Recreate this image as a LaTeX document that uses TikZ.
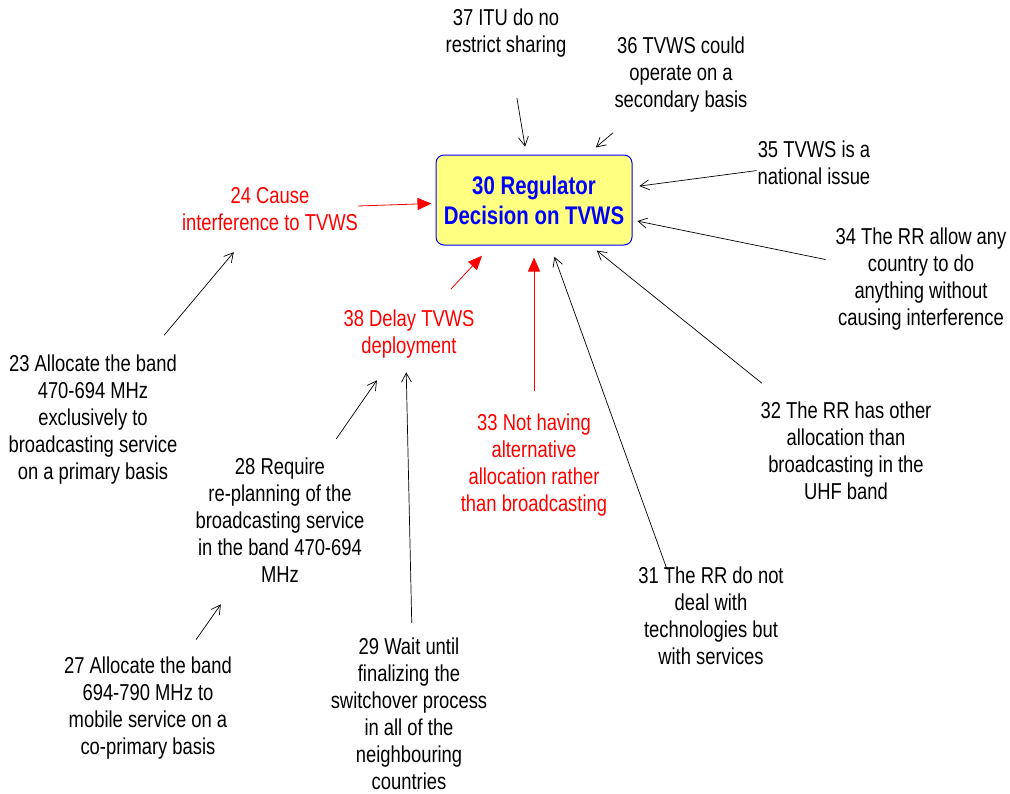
\documentclass[tikz,border=0pt]{standalone}
\usepackage{fontspec}
\setmainfont{Liberation Sans}[FakeStretch=0.8]
\usetikzlibrary{arrows.meta, positioning}
\definecolor{boxYellow}{RGB}{255,255,128}
\tikzset{
  varB/.style={align=center, inner xsep=0pt, inner ysep=3pt,
               font=\fontsize{23}{27}\selectfont},
  varR/.style={varB, text=red},
  decision/.style={draw=blue, fill=boxYellow, rounded corners=8pt,
                   line width=1pt, minimum width=196pt, minimum height=90pt,
                   align=center, text=blue,
                   font=\fontsize{25.5}{30}\selectfont\bfseries},
  arrB/.style={draw=black, line width=0.7pt,
               -{Straight Barb[length=9pt, width=10pt]}},
  arrR/.style={draw=red, line width=0.8pt,
               -{Triangle[length=14pt, width=12pt]}},
}

\begin{document}
\begin{tikzpicture}[x=1pt, y=-1pt]
    \useasboundingbox (0,0) rectangle (1010,793);

    %% decision variable
    \node[decision] (n30) at (534,200) {30 Regulator\\Decision on TVWS};

    %% causes
    \node[varB] (n37) at (506,33)  {37 ITU do no\\restrict sharing};
    \node[varB] (n36) at (681,75)  {36 TVWS could\\operate on a\\secondary basis};
    \node[varB] (n35) at (814,163) {35 TVWS is a\\national issue};
    \node[varB] (n34) at (921,279) {34 The RR allow any\\country to do\\anything without\\causing interference};
    \node[varB] (n32) at (846,451) {32 The RR has other\\allocation than\\broadcasting in the\\UHF band};
    \node[varB] (n31) at (711,616) {31 The RR do not\\deal with\\technologies but\\with services};
    \node[varR] (n33) at (534,465) {33 Not having\\alternative\\allocation rather\\than broadcasting};
    \node[varR] (n38) at (409,334) {38 Delay TVWS\\deployment};
    \node[varR] (n24) at (270,209) {24 Cause\\interference to TVWS};
    \node[varB] (n23) at (93,420)  {23 Allocate the band\\470-694 MHz\\exclusively to\\broadcasting service\\on a primary basis};
    \node[varB] (n28) at (280,520) {28 Require\\re-planning of the\\broadcasting service\\in the band 470-694\\MHz};
    \node[varB] (n29) at (409,714) {29 Wait until\\finalizing the\\switchover process\\in all of the\\neighbouring\\countries};
    \node[varB] (n27) at (148,708) {27 Allocate the band\\694-790 MHz to\\mobile service on a\\co-primary basis};

    %% links into the decision
    \draw[arrB, shorten <=38pt, shorten >=8pt]  (n37) -- (n30);
    \draw[arrB, shorten <=26pt, shorten >=11pt] (n36) -- (n30);
    \draw[arrB, shorten <=1pt, shorten >=7pt]   (n35) -- (n30);
    \draw[arrB, shorten <=10pt, shorten >=5pt]  (n34) -- (n30);
    \draw[arrB, shorten <=25pt, shorten >=8pt]  (n32) -- (n30);
    \draw[arrB, shorten >=12pt] ([xshift=29pt, yshift=-6pt]n31.north west) -- (n30);
    \draw[arrR, shorten <=20pt, shorten >=12pt] (n33) -- (n30);
    \draw[arrR, shorten <=24pt, shorten >=14pt] (n38) -- (n30);
    \draw[arrR, shorten >=4pt]                  (n24) -- (n30);

    %% links between causes
    \draw[arrB, shorten <=22pt, shorten >=24pt] (n23) -- (n24);
    \draw[arrB, shorten <=19pt, shorten >=23pt] (n28) -- (n38);
    \draw[arrB, shorten <=12pt, shorten >=11pt] ([xshift=3pt]n29.north) -- ([xshift=-3pt]n38.south);
    \draw[arrB, shorten <=17pt, shorten >=23pt] (n27) -- (n28);
\end{tikzpicture}
\end{document}
